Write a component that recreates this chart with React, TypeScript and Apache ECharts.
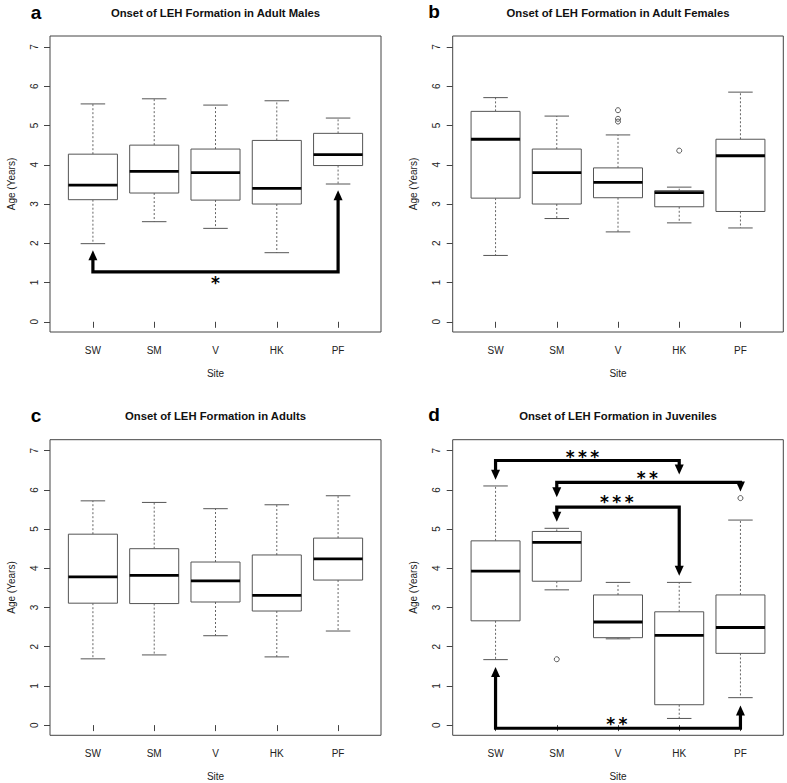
import React, { useEffect, useRef } from 'react';
import * as echarts from 'echarts';

const FONT = "'Liberation Sans', Arial, Helvetica, sans-serif";
const STAR_FONT = "'DejaVu Sans', 'Liberation Sans', sans-serif";

const sites = ['SW', 'SM', 'V', 'HK', 'PF'];
const siteTicks = [1, 2, 3, 4, 5];
const yTicks = [0, 1, 2, 3, 4, 5, 6, 7];

// [lower whisker, Q1, median, Q3, upper whisker] per site
const adultMales = [
  [1.99, 3.11, 3.48, 4.27, 5.55],
  [2.55, 3.28, 3.83, 4.5, 5.68],
  [2.38, 3.1, 3.8, 4.4, 5.52],
  [1.76, 3.0, 3.4, 4.62, 5.63],
  [3.51, 3.98, 4.26, 4.8, 5.19],
];
const adultFemales = [
  [1.69, 3.15, 4.65, 5.36, 5.71],
  [2.63, 3.0, 3.8, 4.4, 5.24],
  [2.29, 3.16, 3.55, 3.92, 4.76],
  [2.52, 2.93, 3.29, 3.34, 3.43],
  [2.39, 2.81, 4.23, 4.65, 5.85],
];
const adults = [
  [1.69, 3.11, 3.78, 4.87, 5.72],
  [1.79, 3.1, 3.82, 4.5, 5.68],
  [2.28, 3.14, 3.68, 4.16, 5.52],
  [1.74, 2.91, 3.31, 4.34, 5.62],
  [2.4, 3.7, 4.24, 4.77, 5.85],
];
const juveniles = [
  [1.67, 2.66, 3.93, 4.7, 6.1],
  [3.45, 3.67, 4.66, 4.94, 5.02],
  [2.2, 2.23, 2.63, 3.32, 3.64],
  [0.17, 0.52, 2.29, 2.89, 3.64],
  [0.7, 1.83, 2.49, 3.32, 5.23],
];

// outliers: [site (1-based), value]
const malesOutliers: number[][] = [];
const femalesOutliers = [[3, 5.39], [3, 5.17], [3, 5.1], [4, 4.36]];
const adultsOutliers: number[][] = [];
const juvenilesOutliers = [[2, 1.68], [5, 5.79]];

// significance brackets: [fromSite, toSite, barY, fromTipY, toTipY, labelX, labelY]
const malesBrackets = [[1, 5, 1.27, 1.82, 3.35, 3, 1.08]];
const malesStars = ['*'];
const juvenilesBrackets = [
  [1, 4, 6.75, 6.26, 6.39, 2.42, 6.93],
  [2, 5, 6.19, 5.81, 5.96, 3.48, 6.38],
  [2, 4, 5.56, 5.19, 3.81, 2.98, 5.77],
  [1, 5, -0.08, 1.48, 0.5, 2.98, 0.11],
];
const juvenilesStars = ['***', '**', '***', '**'];

const titles = [
  'Onset of LEH Formation in Adult Males',
  'Onset of LEH Formation in Adult Females',
  'Onset of LEH Formation in Adults',
  'Onset of LEH Formation in Juveniles',
];
const letters = ['a', 'b', 'c', 'd'];
const statsList = [adultMales, adultFemales, adults, juveniles];
const outlierList = [malesOutliers, femalesOutliers, adultsOutliers, juvenilesOutliers];
const bracketList = [malesBrackets, [], [], juvenilesBrackets];
const starList = [malesStars, [], [], juvenilesStars];

// layout (pixels)
const grids = [
  { left: 50, top: 36, width: 331, height: 296 },
  { left: 452.7, top: 36, width: 330.6, height: 296 },
  { left: 50, top: 439.7, width: 331, height: 295.6 },
  { left: 452.7, top: 439.7, width: 330.6, height: 295.6 },
];
const letterPos = [
  [36, 12],
  [434, 11],
  [36, 415],
  [434, 414],
];
const titleY = [13.3, 13.3, 416, 416];

function boxRender(params: any, api: any) {
  const x = api.value(0);
  const lo = api.value(1);
  const q1 = api.value(2);
  const med = api.value(3);
  const q3 = api.value(4);
  const hi = api.value(5);
  const cx = api.coord([x, 0])[0];
  const y = (v: number) => api.coord([x, v])[1];
  const hw = api.size([0.4, 0])[0];
  const whisk = { stroke: '#666', lineWidth: 1, lineDash: [2, 2] };
  const cap = { stroke: '#555', lineWidth: 1 };
  return {
    type: 'group',
    children: [
      { type: 'line', shape: { x1: cx, y1: y(q3), x2: cx, y2: y(hi) }, style: whisk },
      { type: 'line', shape: { x1: cx, y1: y(q1), x2: cx, y2: y(lo) }, style: whisk },
      { type: 'line', shape: { x1: cx - hw / 2, y1: y(hi), x2: cx + hw / 2, y2: y(hi) }, style: cap },
      { type: 'line', shape: { x1: cx - hw / 2, y1: y(lo), x2: cx + hw / 2, y2: y(lo) }, style: cap },
      {
        type: 'rect',
        shape: { x: cx - hw, y: y(q3), width: 2 * hw, height: y(q1) - y(q3) },
        style: { fill: '#fff', stroke: '#555', lineWidth: 1 },
      },
      {
        type: 'line',
        shape: { x1: cx - hw, y1: y(med), x2: cx + hw, y2: y(med) },
        style: { stroke: '#000', lineWidth: 2.8 },
      },
    ],
  };
}

function makeBracketRender(brackets: number[][], stars: string[]) {
  return (params: any, api: any) => {
    const [f, t, bar, tf, tt, lx, ly] = brackets[params.dataIndex];
    const px = (v: number) => api.coord([v, 0])[0];
    const py = (v: number) => api.coord([1, v])[1];
    const xf = px(f);
    const xt = px(t);
    const yb = py(bar);
    const yf = py(tf);
    const yt = py(tt);
    const head = 10;
    const hw = 4.5;
    const df = Math.sign(yf - yb);
    const dt = Math.sign(yt - yb);
    const fs = 17;
    const gap = 12.3;
    const label = stars[params.dataIndex];
    const n = label.length;
    const cx = px(lx);
    const cy = py(ly) + fs * 0.2;
    const starEls = label.split('').map((ch, k) => ({
      type: 'text',
      x: cx + (k - (n - 1) / 2) * gap,
      y: cy,
      style: {
        text: ch,
        fontSize: fs,
        fontWeight: 'bold',
        fontFamily: STAR_FONT,
        fill: '#000',
        textAlign: 'center',
        textVerticalAlign: 'middle',
      },
    }));
    return {
      type: 'group',
      children: [
        {
          type: 'polyline',
          shape: {
            points: [
              [xf, yf - df * head * 0.8],
              [xf, yb],
              [xt, yb],
              [xt, yt - dt * head * 0.8],
            ],
          },
          style: { stroke: '#000', lineWidth: 3.2, fill: null, lineJoin: 'miter', lineCap: 'butt' },
        },
        {
          type: 'polygon',
          shape: { points: [[xf, yf], [xf - hw, yf - df * head], [xf + hw, yf - df * head]] },
          style: { fill: '#000' },
        },
        {
          type: 'polygon',
          shape: { points: [[xt, yt], [xt - hw, yt - dt * head], [xt + hw, yt - dt * head]] },
          style: { fill: '#000' },
        },
        ...starEls,
      ],
    };
  };
}

export default function App() {
  const ref = useRef<HTMLDivElement>(null);

  useEffect(() => {
    if (!ref.current) return;
    const chart = echarts.init(ref.current, undefined, { renderer: 'svg' });

    const xAxis: any[] = [];
    const yAxis: any[] = [];
    const series: any[] = [];
    const graphic: any[] = [];

    grids.forEach((g, i) => {
      xAxis.push({
        type: 'value',
        gridIndex: i,
        min: 0.3,
        max: 5.7,
        axisLine: { show: false },
        splitLine: { show: false },
        axisTick: { show: true, customValues: siteTicks, length: 6, lineStyle: { color: '#444', width: 1 } },
        axisLabel: {
          show: true,
          customValues: siteTicks,
          formatter: (v: number) => sites[Math.round(v) - 1] ?? '',
          fontSize: 10,
          color: '#222',
          fontFamily: FONT,
          margin: 13,
        },
        name: 'Site',
        nameLocation: 'middle',
        nameGap: 36,
        nameTextStyle: { fontSize: 10, color: '#222', fontFamily: FONT },
      });
      yAxis.push({
        type: 'value',
        gridIndex: i,
        min: -0.26,
        max: 7.28,
        axisLine: { show: false },
        splitLine: { show: false },
        axisTick: { show: true, customValues: yTicks, length: 6, lineStyle: { color: '#444', width: 1 } },
        axisLabel: {
          show: true,
          customValues: yTicks,
          rotate: 90,
          fontSize: 10,
          color: '#222',
          fontFamily: FONT,
          margin: 11,
        },
        name: 'Age (Years)',
        nameLocation: 'middle',
        nameGap: 34,
        nameTextStyle: { fontSize: 10, color: '#222', fontFamily: FONT },
      });

      series.push({
        type: 'custom',
        xAxisIndex: i,
        yAxisIndex: i,
        renderItem: boxRender,
        encode: { x: 0, y: [1, 2, 3, 4, 5] },
        data: statsList[i].map((s, k) => [k + 1, ...s]),
        z: 2,
      });
      if (outlierList[i].length) {
        series.push({
          type: 'scatter',
          xAxisIndex: i,
          yAxisIndex: i,
          data: outlierList[i],
          symbol: 'circle',
          symbolSize: 5,
          itemStyle: { color: 'transparent', borderColor: '#333', borderWidth: 1 },
          z: 3,
        });
      }
      if (bracketList[i].length) {
        series.push({
          type: 'custom',
          xAxisIndex: i,
          yAxisIndex: i,
          renderItem: makeBracketRender(bracketList[i], starList[i]),
          encode: { x: [0, 1], y: [2, 3, 4] },
          data: bracketList[i],
          z: 4,
        });
      }

      graphic.push({
        type: 'text',
        x: g.left + g.width / 2,
        y: titleY[i],
        style: {
          text: titles[i],
          fontSize: 11.3,
          fontWeight: 'bold',
          fontFamily: FONT,
          fill: '#111',
          textAlign: 'center',
          textVerticalAlign: 'middle',
        },
      });
      graphic.push({
        type: 'text',
        x: letterPos[i][0],
        y: letterPos[i][1],
        style: {
          text: letters[i],
          fontSize: 19,
          fontWeight: 'bold',
          fontFamily: FONT,
          fill: '#000',
          textAlign: 'center',
          textVerticalAlign: 'middle',
        },
      });
    });

    chart.setOption({
      animation: false,
      backgroundColor: '#fff',
      textStyle: { fontFamily: FONT },
      grid: grids.map((g) => ({
        ...g,
        show: true,
        borderColor: '#444',
        borderWidth: 1,
        backgroundColor: 'transparent',
        containLabel: false,
      })),
      xAxis,
      yAxis,
      series,
      graphic,
    });

    return () => chart.dispose();
  }, []);

  return (
    <div
      ref={ref}
      style={{ position: 'fixed', left: 0, top: 0, width: 787, height: 783, background: '#fff' }}
    />
  );
}
